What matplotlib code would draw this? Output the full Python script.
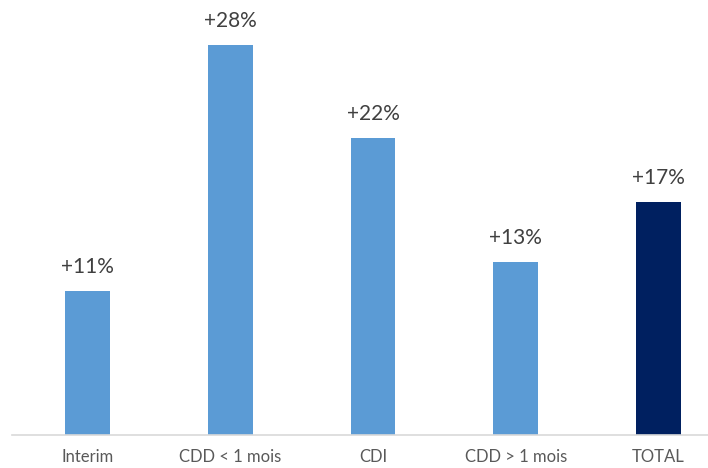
import matplotlib
matplotlib.use("Agg")
import matplotlib.pyplot as plt

categories = ["Interim", "CDD < 1 mois", "CDI", "CDD > 1 mois", "TOTAL"]
values = [10.3, 28.0, 21.3, 12.4, 16.7]
labels = ["+11%", "+28%", "+22%", "+13%", "+17%"]
colors = ["#5B9BD5", "#5B9BD5", "#5B9BD5", "#5B9BD5", "#002060"]

fig = plt.figure(figsize=(7.08, 4.68), dpi=100)
ax = fig.add_axes([12/708, 1 - 435/468, 1 - 12/708, 435/468])

x = range(len(categories))
ax.bar(x, values, width=0.315, color=colors, zorder=2)
for xi, v, lab in zip(x, values, labels):
    ax.text(xi, v + 1.0, lab, ha="center", va="bottom", fontsize=15,
            family="Lato", color="#404040")

ax.set_xlim(-0.529, 4.347)
ax.set_ylim(0, 31.2)
ax.set_xticks(list(x))
ax.set_xticklabels(categories, fontsize=12, family="Lato", color="#595959")
ax.tick_params(axis="x", length=0, pad=10)
ax.set_yticks([])
for s in ["top", "right", "left"]:
    ax.spines[s].set_visible(False)
ax.spines["bottom"].set_color("#D9D9D9")
ax.spines["bottom"].set_linewidth(1.2)

fig.savefig("out.png", dpi=100)
